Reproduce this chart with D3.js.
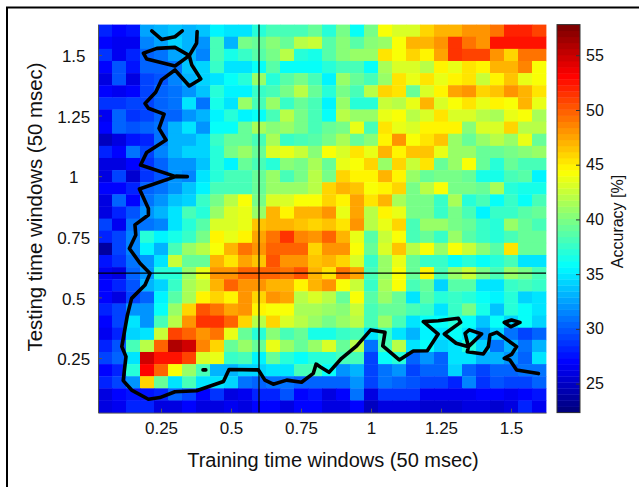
<!DOCTYPE html>
<html>
<head>
<meta charset="utf-8">
<script src="https://cdn.jsdelivr.net/npm/d3@7"></script>
<style>
  html, body { margin: 0; padding: 0; background: #fff; }
  svg { display: block; }
  text { font-family: "Liberation Sans", Arial, sans-serif; fill: #111; }
</style>
</head>
<body>
<div id="chart"></div>
<script>
// accuracy grid, top row first (testing time 1.6 down to 0.05)
var row00 = [28,27,27.5,32.5,33,33.5,33,33.5,35.5,34.5,35,37,38,38,38,39.5,37,40,36,40,44.5,43,43,46,47,47,48.5,48.5,49.5,52,52,51];
var row01 = [27,26.5,26.5,31.5,32.5,34,33,32,38,33,40,39.5,40.5,39.5,42,42.5,38.5,40.5,38.5,40.5,41,44.5,47,47,48.5,51.5,49.5,48,52.5,52.5,52.5,52.5];
var row02 = [28.5,26.5,28,30,31,32.5,33,31.5,38,36.5,37.5,38.5,40,42,37,36.5,38.5,40.5,41,41,45.5,44.5,46,45,47.5,51.5,51,51,48.5,46,49.5,49.5];
var row03 = [27,29.5,27.5,30,30.5,31,33.5,34,37.5,34.5,35,36,38.5,36,36,36,37,38,38,36,41.5,43,43,42,45,43.5,45.5,45,47,47,49,44.5];
var row04 = [26,29.5,25.5,29,29.5,31.5,33,34,35,36,37,41,37,38.5,40,38,35.5,41,39,38,41,45.5,43.5,45.5,43.5,45,45.5,42.5,45,46.5,43.5,44.5];
var row05 = [27,26.5,27,29,30,31,32,33.5,37,35.5,35.5,37.5,38,40,42,39.5,37,40,38,42,46,45.5,39,43,45,47.5,48,46,46.5,48.5,47,45.5];
var row06 = [28.5,28.5,29,29,30,31,35,31,36.5,35,41,38,41,37.5,39,38,35.5,41,37,37,42.5,42,43.5,47,43,44.5,45.5,44,45,44.5,47,43.5];
var row07 = [26.5,30,28.5,29,30,30.5,32,33,35.5,37,35.5,36,38,42,40,38,36,42,41,41,44,44.5,42,43,45.5,43,43,42,41.5,44,44.5,41.5];
var row08 = [27,30,29.5,30,31,33,35,32,36,36,39,41.5,40.5,41,40,38,39,40,44,38,45.5,43.5,43,45,45,45,40.5,43,43,46,42,42];
var row09 = [24.5,25.5,27.5,28,31,33,33,34,37.5,39.5,39.5,38,41.5,37.5,38,38.5,40,41.5,39.5,40.5,45,48,44.5,45.5,46.5,41,39,41,42,41,43.5,39.5];
var row10 = [28,27,31,29,31.5,33,34,34,37,40,41,39.5,43,43.5,42.5,40.5,44.5,43,45.5,43.5,47,45,46.5,46.5,44,41,41,39.5,39.5,40,40.5,41];
var row11 = [26,26,27,28.5,30,32,32,33.5,37,35.5,39,38,37,40.5,40,41.5,39,43.5,44.5,46,41,46,42.5,45.5,39.5,41,44.5,39,37,39,38,38];
var row12 = [26,29,25,28.5,29.5,32,31.5,35,37,38,38,39,41,38,40,42,40,46,45,45,47,45,41,39,40,40,39.5,36.5,36.5,38,38.5,35.5];
var row13 = [27,27,28,30,31,32,33.5,35.5,38,38,38,39.5,41,41,41,42,46,47,46.5,44.5,45,46,40,42,44.5,40,40,39.5,41.5,37,36.5,36.5];
var row14 = [26,30,27,31,32,33.5,34,37.5,40,42,44.5,40,43,43,44.5,44.5,46,45,47.5,45.5,47,41.5,40,40,37.5,41.5,37,38,36,37.5,36,38];
var row15 = [26,28,29.5,32,33,35,38,37,41,43,44,41,47,45,47,47,48.5,43.5,47.5,42,45,44,40,40,37.5,40,38,35.5,37.5,37.5,38.5,39];
var row16 = [29,26.5,31,31,31.5,35,37,38.5,43,43,44,46.5,47,47,46.5,46,46.5,45.5,48,42,44,46,38,41,41,40,39.5,37.5,37,41,39,38];
var row17 = [28,29,31.5,37,35.5,36.5,37.5,40,45,43.5,45,47.5,49.5,51.5,49,48,50,47,44,38.5,42.5,44.5,38,39,37.5,41,38.5,37.5,37,38,39,39];
var row18 = [23.5,29,31.5,35.5,33,38,41,42,44.5,47,49.5,48,50,50,50,46,48.5,48.5,44.5,39,43,46.5,42,44.5,41,44.5,42.5,40.5,38.5,45.5,39,39];
var row19 = [27.5,28.5,31,32,34.5,42.5,39,39.5,47,45.5,47.5,46.5,50.5,48,48,46.5,47,46,43,37.5,41,44,39,37.5,37.5,36,37,36,37,38,34.5,35];
var row20 = [26.5,25.5,30,32,37,37,41,44,48,48,50,50,50,49.5,50.5,47,45.5,49.5,47.5,38,41,44.5,39,45,38,41,42.5,40,38,41,40,38];
var row21 = [27,28,29.5,33,34,37.5,41.5,42.5,47,50,48,48,47,47,45,47,48,44.5,42.5,37.5,41.5,44.5,38,39,34,38.5,38.5,35,34.5,37.5,38,37.5];
var row22 = [27,26,29,30,35.5,38.5,41.5,45,46,45,48,46,48,47.5,42,43,42,39.5,44.5,38.5,41,39,35,38.5,37,37.5,37,36,35.5,37,34,34.5];
var row23 = [28,29,32,32,36,41,46,50.5,49.5,47.5,48,45,44.5,44.5,41.5,41.5,41,40.5,42.5,38,39,39,38,37.5,35,37.5,40,36.5,33.5,37,36,35];
var row24 = [27,29,34.5,32,38,42,48,51.5,51.5,50,46,42,46,43,42,41,40,41,42,38,41,38,35,36,36,37,36,33.5,36,34,36,34];
var row25 = [26.5,28,34,35,42.5,51,50,48.5,49.5,44,39.5,37,40.5,38,39,36.5,36.5,37.5,38,35,37.5,35,33,35.5,34.5,36,35,32,34,31,29,30];
var row26 = [28,29.5,38,42,50,56,55,49,46,39.5,41,39,44,41,39,41,43,39,42,31,38,42,35,36,34,35,37,34,31,33,31,33];
var row27 = [29,30,35,55,53,53,51,43,43.5,37.5,38,35.5,39,37,36,37,37,38,38,29,36,37,30,32,30,35,35,33,33,32,30,35];
var row28 = [27,28,37,53.5,50,44.5,41,38,33,33,34,34,35,35,38,38,36,32,33,29,31,32,29,30,30,34,30,29,30,30,31,31];
var row29 = [28,29,32,46,39,35,38,35,35,34,31,30.5,31,31,30,30,30,30,32,29,31,30,29.5,29,29,28,31.5,28.5,29.5,29,29,30];
var row30 = [26,27,27.5,27.5,28,30,29,27,28.5,26,26.5,28,28,29.5,27,27.5,26,27,31,26,28.5,28.5,28.5,26.5,26.5,26.5,26.5,27,27,26.5,27,27.5];
var row31 = [26,26.5,28,28,26,26,27,26,25.5,26.5,26,27,27,25.5,27,27,25.5,26,27,24.5,26,26,26,25,25,25,26,25.5,25,26,28,26.5];
var accuracy = [row00,row01,row02,row03,row04,row05,row06,row07,row08,row09,row10,row11,row12,row13,row14,row15,
    row16,row17,row18,row19,row20,row21,row22,row23,row24,row25,row26,row27,row28,row29,row30,row31];

var xTicks = [0.25, 0.5, 0.75, 1, 1.25, 1.5];
var yTicks = [0.25, 0.5, 0.75, 1, 1.25, 1.5];
var barTicks = [25, 30, 35, 40, 45, 50, 55];
var accuracyRange = [22.35, 57.8];
var markTime = 0.6;

// significance contours as [training, testing] time
var contourMain = [[.379,1.596],[.377,1.548],[.351,1.497],[.360,1.458],[.392,1.401],[.351,1.372],[.300,1.438],[.252,1.397],
    [.231,1.346],[.193,1.300],[.205,1.280],[.261,1.256],[.243,1.197],[.268,1.149],[.199,1.098],[.177,1.046],[.300,.999],
    [.344,.998],[.304,.999],[.173,.947],[.205,.867],[.205,.840],[.157,.799],[.160,.757],[.137,.702],[.175,.641],[.211,.599],
    [.193,.551],[.145,.496],[.130,.427],[.110,.297],[.125,.256],[.115,.157],[.145,.118],[.205,.080],[.246,.087],[.300,.111],
    [.377,.115],[.473,.153],[.493,.203],[.598,.201],[.621,.159],[.651,.142],[.699,.159],[.752,.150],[.794,.187],[.804,.225],
    [.818,.214],[.850,.191],[.895,.249],[.949,.300],[.999,.366],[1.050,.356],[1.042,.300],[1.101,.242],[1.151,.279],[1.201,.280],
    [1.240,.349],[1.187,.400],[1.240,.404],[1.312,.414],[1.320,.397],[1.262,.349],[1.304,.311],[1.348,.297],[1.336,.352],
    [1.351,.366],[1.395,.349],[1.348,.297],[1.344,.276],[1.401,.267],[1.419,.297],[1.425,.345],[1.449,.356],[1.520,.297],
    [1.502,.265],[1.476,.249],[1.496,.242],[1.520,.201],[1.598,.186]];
var contourTop = [[.217,1.599],[.252,1.564],[.300,1.575],[.326,1.599]];
var contourLoop = [[.351,1.497],[.300,1.531],[.235,1.527],[.187,1.507],[.199,1.483],[.300,1.454],[.351,1.497]];
var contourSmall = [[1.476,.397],[1.502,.407],[1.532,.397],[1.499,.379],[1.476,.397]];
var contourDot = [[.400,.201],[.410,.201]];
var contours = [contourMain, contourTop, contourLoop, contourSmall, contourDot];

// define svg area dimensions
var svgWidth = 639;
var svgHeight = 487;
var plot = { left: 98, top: 24.6, width: 448, height: 388 };
var bar = { left: 557, width: 23 };

var svg = d3.select("#chart")
    .append("svg")
    .attr("width", svgWidth)
    .attr("height", svgHeight);

// outer frame, only left and top edges are in the picture
svg.append("path")
    .attr("d", "M7,487V7.5H639")
    .attr("fill", "none")
    .attr("stroke", "#000")
    .attr("stroke-width", 2);

// scales, cells are 0.05 wide so the domain starts half a cell below 0.05
var xScale = d3.scaleLinear().domain([0.025, 1.625]).range([plot.left, plot.left + plot.width]);
var yScale = d3.scaleLinear().domain([0.025, 1.625]).range([plot.top + plot.height, plot.top]);

// matlab jet with 64 steps
function jet(t) {
    t = Math.round(Math.max(0, Math.min(1, t)) * 63) / 63;
    var ch = function(v) { return Math.round(255 * Math.max(0, Math.min(1, 1.5 - Math.abs(4 * t - v)))); };
    return `rgb(${ch(3)},${ch(2)},${ch(1)})`;
}
var colorScale = d3.scaleSequential(jet).domain(accuracyRange);

var cellW = xScale(0.075) - xScale(0.025);
var cellH = yScale(0.025) - yScale(0.075);

var chartGroup = svg.append("g");

accuracy.forEach(function(row, r) {
    var testTime = (32 - r) * 0.05;
    chartGroup.selectAll(null)
        .data(row)
        .enter()
        .append("rect")
        .attr("x", (d, c) => xScale((c + 1) * 0.05) - cellW / 2)
        .attr("y", yScale(testTime) - cellH / 2)
        .attr("width", cellW + 0.4)
        .attr("height", cellH + 0.4)
        .attr("fill", d => colorScale(d));
});

// axes, short grey ticks pointing inwards
var bottomAxis = d3.axisBottom(xScale).tickValues(xTicks).tickFormat(d => String(d)).tickSizeInner(-4).tickSizeOuter(0).tickPadding(9);
var leftAxis = d3.axisLeft(yScale).tickValues(yTicks).tickFormat(d => String(d)).tickSizeInner(-4).tickSizeOuter(0);

var xAxis = chartGroup.append("g")
    .attr("transform", `translate(0, ${plot.top + plot.height})`)
    .call(bottomAxis);
var yAxis = chartGroup.append("g")
    .attr("transform", `translate(${plot.left}, 0)`)
    .call(leftAxis);
[xAxis, yAxis].forEach(function(axis) {
    axis.selectAll("path, line").attr("stroke", "#555");
    axis.selectAll("text").attr("font-size", 17).attr("fill", "#111");
});
// y tick labels are centred on one another in the original
yAxis.selectAll("text")
    .attr("text-anchor", "middle")
    .attr("x", -24.3)
    .attr("dy", "0.4em");

// crosshair at stimulus time
chartGroup.append("line")
    .attr("x1", xScale(markTime)).attr("x2", xScale(markTime))
    .attr("y1", yScale(0.025)).attr("y2", yScale(1.625))
    .attr("stroke", "#000").attr("stroke-width", 1.2);
chartGroup.append("line")
    .attr("x1", xScale(0.025)).attr("x2", xScale(1.625))
    .attr("y1", yScale(markTime)).attr("y2", yScale(markTime))
    .attr("stroke", "#000").attr("stroke-width", 1.2);

var contourLine = d3.line().x(d => xScale(d[0])).y(d => yScale(d[1]));
chartGroup.selectAll(".contour")
    .data(contours)
    .enter()
    .append("path")
    .attr("class", "contour")
    .attr("d", contourLine)
    .attr("fill", "none")
    .attr("stroke", "#000")
    .attr("stroke-width", 3.6)
    .attr("stroke-linejoin", "round")
    .attr("stroke-linecap", "round");

// colour bar
var barScale = d3.scaleLinear().domain(accuracyRange).range([plot.top + plot.height, plot.top]);
var barSteps = d3.range(64);
svg.append("g").selectAll("rect")
    .data(barSteps)
    .enter()
    .append("rect")
    .attr("x", bar.left)
    .attr("width", bar.width)
    .attr("y", d => plot.top + plot.height * (63 - d) / 64)
    .attr("height", plot.height / 64 + 0.4)
    .attr("fill", d => jet(d / 63));
svg.append("rect")
    .attr("x", bar.left).attr("y", plot.top)
    .attr("width", bar.width).attr("height", plot.height)
    .attr("fill", "none").attr("stroke", "#333");

var barAxis = svg.append("g")
    .attr("transform", `translate(${bar.left + bar.width}, 0)`)
    .call(d3.axisRight(barScale).tickValues(barTicks).tickSizeInner(-4).tickSizeOuter(0).tickPadding(6));
barAxis.select("path").remove();
barAxis.selectAll("line").attr("stroke", "#333");
barAxis.selectAll("text").attr("font-size", 16).attr("fill", "#111");

// axis labels
svg.append("text")
    .attr("x", 333).attr("y", 467)
    .attr("text-anchor", "middle")
    .attr("font-size", 20)
    .text("Training time windows (50 msec)");
svg.append("text")
    .attr("transform", "translate(42, 207) rotate(-90)")
    .attr("text-anchor", "middle")
    .attr("font-size", 20.4)
    .text("Testing time windows (50 msec)");
svg.append("text")
    .attr("transform", "translate(623, 221.5) rotate(-90)")
    .attr("text-anchor", "middle")
    .attr("font-size", 16)
    .text("Accuracy [%]");
</script>
</body>
</html>
